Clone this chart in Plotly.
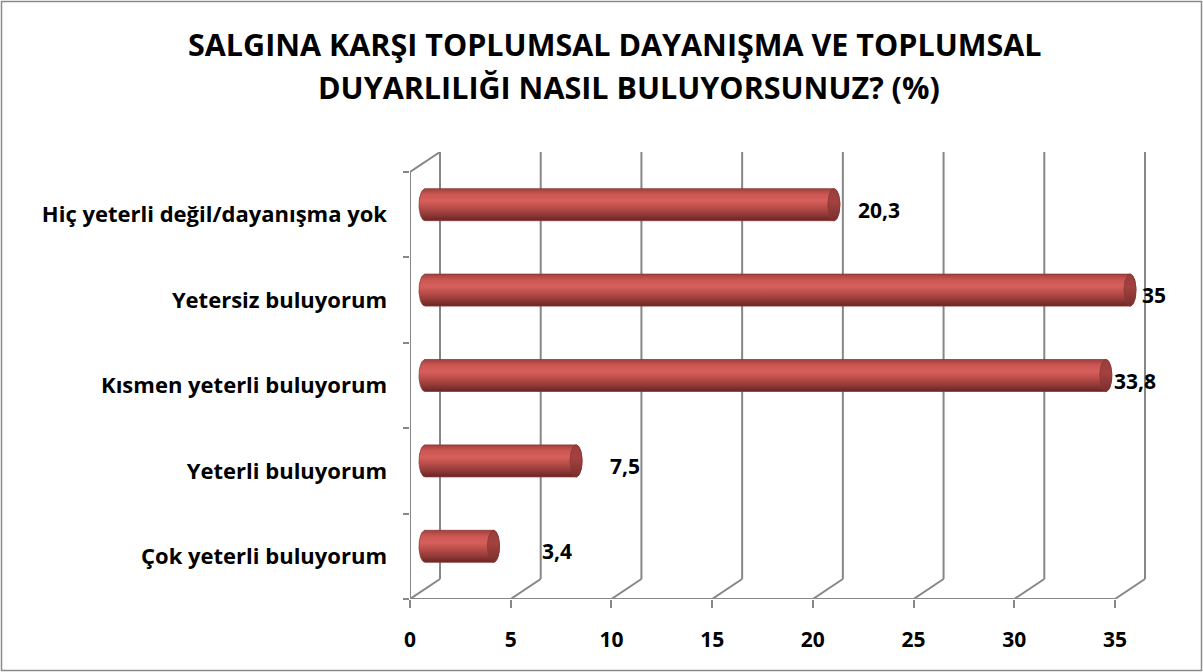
import numpy as np
import plotly.graph_objects as go

# ---- data (bottom to top) ----
categories = ["Çok yeterli buluyorum", "Yeterli buluyorum", "Kısmen yeterli buluyorum",
              "Yetersiz buluyorum", "Hiç yeterli değil/dayanışma yok"]
values = [3.4, 7.5, 33.8, 35, 20.3]
value_labels = ["3,4", "7,5", "33,8", "35", "20,3"]
x_ticks = [0, 5, 10, 15, 20, 25, 30, 35]
title_lines = ["SALGINA KARŞI TOPLUMSAL DAYANIŞMA VE TOPLUMSAL",
               "DUYARLILIĞI NASIL BULUYORSUNUZ? (%)"]

# ---- style / geometry ----
W, H = 1203, 672
ML, MR, MT, MB = 410, 53, 152, 73
plot_w = W - ML - MR
plot_h = H - MT - MB
px_per_x = 705 / 35.0
x_range = [0, plot_w / px_per_x]
px_per_y = 427 / 5.0
y_range = [-0.5, -0.5 + plot_h / px_per_y]
dxb = 30 / px_per_x      # depth offset (back wall) in x units
dyb = 20 / px_per_y      # depth offset in y units
bar_half = 16 / px_per_y
cap_a = 6 / px_per_x
label_dx = [47, 32, 6, 10, 22]   # pixel shift of data labels from bar end
grid_color = "#878787"
FONT = "Open Sans"


def px_to_paper_x(px):
    return (px - ML) / plot_w


def py_to_paper_y(py):
    return (H - MB - py) / plot_h


fig = go.Figure()

shapes = []


def line(x0, y0, x1, y1, w=2):
    shapes.append(dict(type="line", xref="x", yref="y", x0=x0, y0=y0, x1=x1, y1=y1,
                       line=dict(color=grid_color, width=w), layer="below"))


top = len(categories) - 0.5
for v in x_ticks:
    line(v + dxb, -0.5 + dyb, v + dxb, top + dyb)       # back wall gridline
    line(v, -0.5, v + dxb, -0.5 + dyb)                  # floor diagonal
line(0, -0.5, x_ticks[-1], -0.5)                        # front floor edge
line(0, -0.5, 0, top)                                   # left wall front edge
line(0, top, dxb, top + dyb)                            # left wall top diagonal

# outer border of the chart area
shapes.append(dict(type="rect", xref="paper", yref="paper",
                   x0=px_to_paper_x(1.5), x1=px_to_paper_x(1201.5),
                   y0=py_to_paper_y(670.5), y1=py_to_paper_y(1.5),
                   line=dict(color="#8a8a8a", width=1.5), layer="below"))

# cylinders
body_scale = [[0.0, "#652624"], [0.18, "#8f3836"], [0.42, "#bb4e4a"],
              [0.62, "#d65f5b"], [0.82, "#cb5652"], [1.0, "#a0413e"]]
t = np.linspace(0, np.pi, 40)
tt = np.linspace(0, 2 * np.pi, 60)
for i, v in enumerate(values):
    yc = i + dyb / 2
    x0 = dxb / 2
    x1 = v + dxb / 2
    rx = x1 + cap_a * np.sin(t)
    ry = yc + bar_half * np.cos(t)
    lx = x0 - cap_a * np.sin(t)
    ly = yc - bar_half * np.cos(t)
    xs = np.concatenate([rx, lx, rx[:1]])
    ys = np.concatenate([ry, ly, ry[:1]])
    fig.add_trace(go.Scatter(
        x=xs, y=ys, mode="lines", fill="toself", line=dict(width=0.8, color="#8a3836"),
        fillgradient=dict(type="vertical", colorscale=body_scale,
                          start=yc - bar_half, stop=yc + bar_half),
        hoverinfo="skip", showlegend=False))
    fig.add_trace(go.Scatter(
        x=x1 + cap_a * np.cos(tt), y=yc + bar_half * np.sin(tt), mode="lines",
        fill="toself", line=dict(width=0.8, color="#873634"),
        fillgradient=dict(type="vertical",
                          colorscale=[[0, "#782f2d"], [0.6, "#a34240"], [1, "#983d3b"]],
                          start=yc - bar_half, stop=yc + bar_half),
        hoverinfo="skip", showlegend=False))

annotations = []
for i, (v, lab) in enumerate(zip(values, value_labels)):
    annotations.append(dict(x=v + dxb / 2, y=i + dyb / 2, text=lab, showarrow=False,
                            xanchor="left", yanchor="middle", xshift=label_dx[i], yshift=-5,
                            font=dict(family=FONT, size=21, color="black", weight="bold")))

annotations.append(dict(xref="paper", yref="paper", x=px_to_paper_x(615),
                        y=py_to_paper_y(44), text=title_lines[0], showarrow=False,
                        xanchor="center", yanchor="middle",
                        font=dict(family=FONT, size=30.5, color="black", weight="bold")))
annotations.append(dict(xref="paper", yref="paper", x=px_to_paper_x(629),
                        y=py_to_paper_y(87), text=title_lines[1], showarrow=False,
                        xanchor="center", yanchor="middle",
                        font=dict(family=FONT, size=30.5, color="black", weight="bold")))

fig.update_layout(
    width=W, height=H, margin=dict(l=ML, r=MR, t=MT, b=MB, autoexpand=False),
    paper_bgcolor="white", plot_bgcolor="white",
    shapes=shapes, annotations=annotations, showlegend=False,
    xaxis=dict(range=x_range, tickvals=x_ticks, ticks="outside", ticklen=8, tickwidth=2,
               tickcolor=grid_color, showgrid=False, zeroline=False, showline=False,
               ticklabelstandoff=14, automargin=False,
               tickfont=dict(family=FONT, size=21, color="black", weight="bold")),
    yaxis=dict(range=y_range, tickvals=list(range(len(categories))), ticktext=categories,
               ticks="", showgrid=False, zeroline=False, showline=False,
               ticklabelstandoff=22, automargin=False,
               minor=dict(tickmode="linear", tick0=-0.5, dtick=1, ticks="outside",
                          ticklen=6, tickwidth=2, tickcolor=grid_color, showgrid=False),
               tickfont=dict(family=FONT, size=22, color="black", weight="bold")),
)

fig.write_html("out.html", config={"displayModeBar": False},
               post_script="document.body.style.margin='0';")
